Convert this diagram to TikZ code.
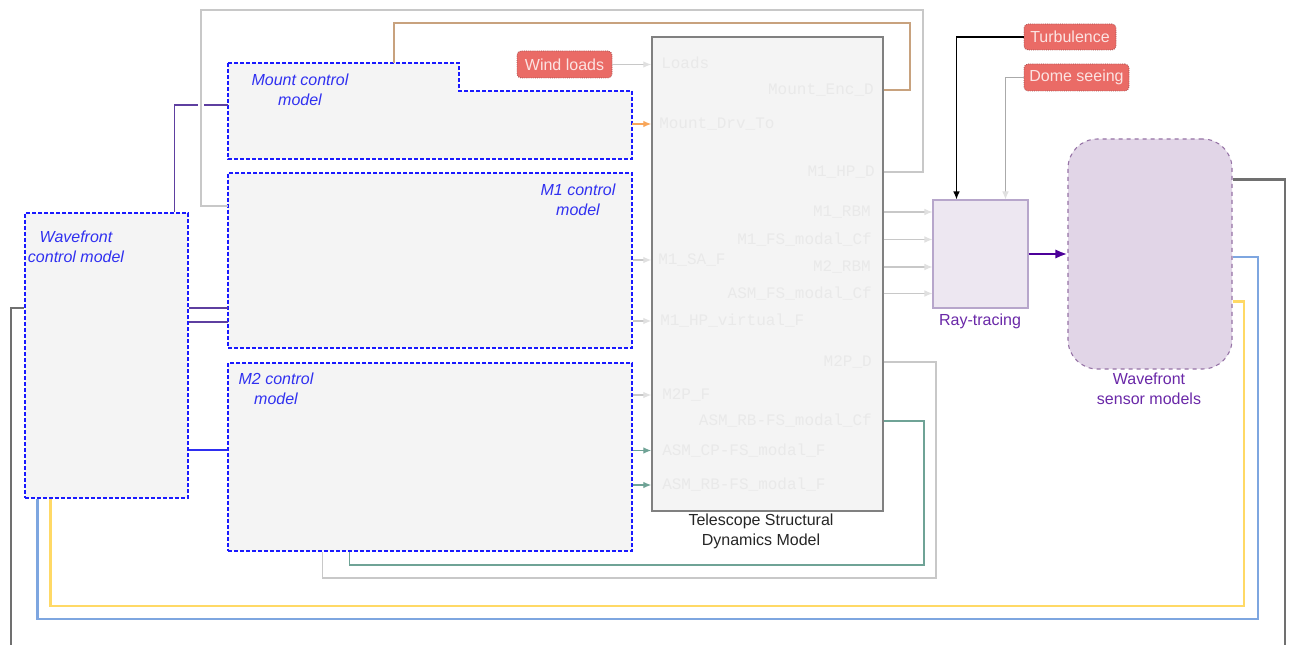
\documentclass[tikz,border=0pt]{standalone}
\usepackage{fontspec}
\setmainfont{Liberation Sans}
\newfontfamily\portfont{Liberation Mono}
\usetikzlibrary{arrows.meta,fit,calc}
\definecolor{ctrlfill}{HTML}{F4F4F4}
\definecolor{ctrlblue}{HTML}{1A1AFF}
\definecolor{ctrltext}{HTML}{3030F0}
\definecolor{porttext}{HTML}{E9E9E9}
\definecolor{tsdmborder}{HTML}{808080}
\definecolor{extfill}{HTML}{EA6B66}
\definecolor{extborder}{HTML}{A05050}
\definecolor{exttextcol}{HTML}{FBE3E2}
\definecolor{rayfill}{HTML}{EDE7F1}
\definecolor{rayborder}{HTML}{B7A6CB}
\definecolor{wfsfill}{HTML}{E1D5E7}
\definecolor{wfsborder}{HTML}{9673A6}
\definecolor{purpletext}{HTML}{6A28A8}
\definecolor{raysout}{HTML}{4C0099}
\definecolor{ctrlpurple}{HTML}{5E3FA0}
\definecolor{lightline}{HTML}{C8C8C8}
\definecolor{lighttip}{HTML}{E0E0E0}
\definecolor{tanline}{HTML}{C8A27E}
\definecolor{orangeline}{HTML}{F8A65A}
\definecolor{tealline}{HTML}{6FA396}
\definecolor{feedgray}{HTML}{707070}
\definecolor{feedblue}{HTML}{7EA6E0}
\definecolor{feedyellow}{HTML}{FFD966}
\definecolor{m2blue}{HTML}{2E2EF0}
\tikzset{
  ctrlbox/.style={draw=ctrlblue, fill=ctrlfill, line width=0.85pt, dash pattern=on 3pt off 1.5pt, inner sep=0pt},
  ctrllabel/.style={text=ctrltext, font=\fontsize{12}{15}\selectfont\itshape, align=center, inner sep=0pt},
  tsdmbox/.style={draw=tsdmborder, fill=ctrlfill, line width=1.1pt, inner sep=0pt},
  portin/.style={font=\portfont\fontsize{12}{14}\selectfont, text=porttext, anchor=west, inner sep=0pt},
  portout/.style={portin, anchor=east},
  extbox/.style={draw=extborder, fill=extfill, densely dotted, line width=0.6pt, rounded corners=3pt, inner sep=0pt},
  extlabel/.style={text=exttextcol, inner sep=0pt},
  raybox/.style={draw=rayborder, fill=rayfill, line width=0.8pt, inner sep=0pt},
  wfsbox/.style={draw=wfsborder, fill=wfsfill, dashed, line width=0.8pt, rounded corners=22pt, inner sep=0pt},
  purplelabel/.style={text=purpletext, align=center, inner sep=0pt, font=\fontsize{12}{15}\selectfont},
  lightlink/.style={draw=lightline, line width=0.9pt},
  lightarrow/.style={lightlink, -{Latex[length=6pt,width=5pt,color=lighttip]}},
  tanlink/.style={draw=tanline, line width=1pt},
  orangearrow/.style={draw=orangeline, line width=1pt, -{Latex[length=6pt,width=5pt]}},
  tealarrow/.style={draw=tealline, line width=1pt, -{Latex[length=6pt,width=5pt]}},
  teallink/.style={draw=tealline, line width=1pt},
  blackarrow/.style={draw=black, line width=0.9pt, -{Latex[length=6pt,width=5pt]}},
  domearrow/.style={draw=lightline!85!black, line width=0.8pt, -{Latex[length=6pt,width=5pt,color=lighttip]}},
  rayarrow/.style={draw=raysout, line width=1.8pt, -{Latex[length=9pt,width=7pt]}},
  purplelink/.style={draw=ctrlpurple, line width=1pt},
  bluelink/.style={draw=m2blue, line width=1pt},
  feedg/.style={draw=feedgray, line width=2.2pt},
  feedb/.style={draw=feedblue, line width=2.2pt},
  feedy/.style={draw=feedyellow, line width=2.2pt},
}
\begin{document}
\begin{tikzpicture}[x=0.75pt, y=-0.75pt, font=\fontsize{12}{15}\selectfont]
\useasboundingbox (0,0) rectangle (1293,645);
\fill[white] (0,0) rectangle (1293,645);

% ---------- boxes ----------
\node[ctrlbox, fit={(25,213) (188,498)}] (wfc) {};
\node[ctrllabel] (wfclabel) at (76,247) {Wavefront\\control model};

\path[ctrlbox] (228,63) -- (459,63) -- (459,91) -- (632,91) -- (632,159) -- (228,159) -- cycle;
\node[fit={(228,63) (632,159)}, inner sep=0pt] (mount) {};
\node[ctrllabel] (mountlabel) at (300,90) {Mount control\\model};
\coordinate (mountTop) at (394,63);
\coordinate (mountIn) at (228,105);

\node[ctrlbox, fit={(228,173) (632,348)}] (m1) {};
\node[ctrllabel] (m1label) at (578,200) {M1 control\\model};
\coordinate (m1inA) at (228,308);
\coordinate (m1inB) at (228,322);
\coordinate (m1fb) at (228,206);

\node[ctrlbox, fit={(228,363) (632,551)}] (m2) {};
\node[ctrllabel] (m2label) at (276,389) {M2 control\\model};
\coordinate (m2in) at (228,450);

\node[tsdmbox, fit={(652,37) (883,511)}] (tsdm) {};
\node[align=center, inner sep=0pt, text=black!85] (tsdmlabel) at (761,531) {Telescope Structural\\Dynamics Model};

\node[raybox, fit={(933,200) (1028,308)}] (ray) {};
\node[purplelabel] (raylabel) at (980,321) {Ray-tracing};

\node[wfsbox, fit={(1068,139) (1232,369)}] (wfs) {};
\node[purplelabel] (wfslabel) at (1149,389) {Wavefront\\sensor models};

\node[extbox, fit={(517,51) (612,78)}] (wind) {};
\node[extlabel] at (wind) {Wind loads};
\node[extbox, fit={(1024,24) (1116,50)}] (turb) {};
\node[extlabel] at (turb) {Turbulence};
\node[extbox, fit={(1024,64) (1129,91)}] (dome) {};
\node[extlabel] at (dome) {Dome seeing};

% ---------- ports ----------
\node[portin] (pLoads) at (661,63) {Loads};
\node[portin] (pMDrv) at (659,124) {Mount\_Drv\_To};
\node[portin] (pM1SA) at (658,260) {M1\_SA\_F};
\node[portin] (pM1HPv) at (660,321) {M1\_HP\_virtual\_F};
\node[portin] (pM2PF) at (662,395) {M2P\_F};
\node[portin] (pASMCP) at (662,450.5) {ASM\_CP-FS\_modal\_F};
\node[portin] (pASMRB) at (662,485) {ASM\_RB-FS\_modal\_F};

\node[portout] (pMEnc) at (874,90) {Mount\_Enc\_D};
\node[portout] (pM1HP) at (875,172) {M1\_HP\_D};
\node[portout] (pM1RBM) at (871,212) {M1\_RBM};
\node[portout] (pM1FS) at (872,239.5) {M1\_FS\_modal\_Cf};
\node[portout] (pM2RBM) at (871,267) {M2\_RBM};
\node[portout] (pASMFS) at (872,293.5) {ASM\_FS\_modal\_Cf};
\node[portout] (pM2PD) at (872,362) {M2P\_D};
\node[portout] (pASMRBCf) at (872,421) {ASM\_RB-FS\_modal\_Cf};

% ---------- connectors ----------
\draw[lightarrow] (wind.east) -- (wind.east -| tsdm.west);
\draw[orangearrow] (mount.east |- pMDrv) -- (tsdm.west |- pMDrv);
\draw[lightarrow] (m1.east |- pM1SA) -- (tsdm.west |- pM1SA);
\draw[lightarrow] (m1.east |- pM1HPv) -- (tsdm.west |- pM1HPv);
\draw[lightarrow] (m2.east |- pM2PF) -- (tsdm.west |- pM2PF);
\draw[tealarrow] (m2.east |- pASMCP) -- (tsdm.west |- pASMCP);
\draw[tealarrow] (m2.east |- pASMRB) -- (tsdm.west |- pASMRB);

\draw[purplelink] ($(wfc.north west)!0.914!(wfc.north east)$) |- (mountIn);
\draw[tanlink] (tsdm.east |- pMEnc) -| (910,23) -| (mountTop);
\draw[white, line width=4pt] (201,99) -- (201,111);
\draw[lightlink] (tsdm.east |- pM1HP) -| (923,10) -| (201,206) -- (m1fb);

\draw[lightarrow] (tsdm.east |- pM1RBM) -- (ray.west |- pM1RBM);
\draw[lightarrow] (tsdm.east |- pM1FS) -- (ray.west |- pM1FS);
\draw[lightarrow] (tsdm.east |- pM2RBM) -- (ray.west |- pM2RBM);
\draw[lightarrow] (tsdm.east |- pASMFS) -- (ray.west |- pASMFS);

\draw[lightlink] (tsdm.east |- pM2PD) -| (936,578) -| ($(m2.south west)!0.235!(m2.south east)$);
\draw[teallink] (tsdm.east |- pASMRBCf) -| (924,565) -| ($(m2.south west)!0.302!(m2.south east)$);

\draw[blackarrow] (turb.west) -| ($(ray.north west)!0.25!(ray.north east)$);
\draw[domearrow] (dome.west) -| ($(ray.north west)!0.76!(ray.north east)$);
\draw[rayarrow] (ray.east) -- (ray.east -| wfs.west);

\draw[purplelink] (wfc.east |- m1inA) -- (m1inA);
\draw[purplelink] (wfc.east |- m1inB) -- (m1inB);
\draw[bluelink] (wfc.east |- m2in) -- (m2in);

\draw[feedg] ($(wfs.north east)!0.178!(wfs.south east)$) -| (1285,647) -| (11,308) -- (wfc.west |- 11,308);
\draw[feedb] ($(wfs.north east)!0.513!(wfs.south east)$) -| (1258,619) -| ($(wfc.south west)!0.08!(wfc.south east)$);
\draw[feedy] ($(wfs.north east)!0.704!(wfs.south east)$) -| (1244,606) -| ($(wfc.south west)!0.16!(wfc.south east)$);
\end{tikzpicture}
\end{document}
